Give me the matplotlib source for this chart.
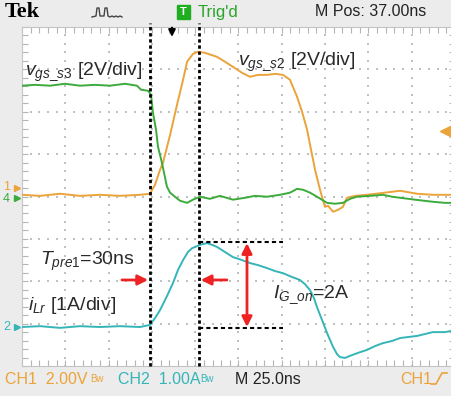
import numpy as np
import matplotlib.pyplot as plt
from matplotlib.ticker import MultipleLocator, NullFormatter
from matplotlib.patches import Rectangle

plt.rcParams['font.family'] = ['Liberation Sans', 'DejaVu Sans']
plt.rcParams['mathtext.fontset'] = 'custom'
plt.rcParams['mathtext.rm'] = 'Liberation Sans'
plt.rcParams['mathtext.it'] = 'Liberation Sans:italic'

# time base 25 ns/div, 10 divisions across the screen
# CH1 (vgs_s2) 2 V/div
t_ch1 = [0, 10.4, 21.9, 33.5, 45.0, 56.6, 68.1, 73.9, 76.8, 79.7, 81.4, 85.5, 89.5, 93.0,
         95.3, 98.7, 101.6, 105.7, 112.6, 117.2, 121.8, 127.0, 131.6, 136.3, 141.5, 146.1,
         150.7, 154.7, 158.8, 161.7, 164.6, 166.9, 169.2, 171.5, 173.2, 174.9, 176.7, 179.6,
         182.5, 185.3, 187.6, 192.3, 199.2, 208.4, 218.3, 228.1, 237.3, 248.3]
v_ch1 = [0.0, -0.05, 0.05, -0.05, 0.0, -0.05, 0.0, 0.05, 0.47, 1.18, 1.51, 2.83, 4.25, 5.43,
         6.28, 6.65, 6.75, 6.70, 6.51, 6.28, 6.04, 5.76, 5.57, 5.66, 5.66, 5.71,
         5.66, 5.43, 4.63, 3.92, 3.07, 2.12, 1.18, 0.42, -0.09, -0.57, -0.52, -0.80,
         -0.71, -0.57, -0.14, -0.05, 0.0, 0.09, 0.19, 0.05, 0.0, 0.0]

# CH4 (vgs_s3) 2 V/div
t_ch4 = [0, 7.5, 16.2, 24.8, 33.5, 42.2, 50.8, 59.5, 66.4, 68.7, 72.8, 74.5, 75.6, 77.4,
         78.5, 80.8, 83.7, 85.5, 88.3, 91.2, 95.3, 98.7, 102.8, 108.5, 114.3, 121.8, 128.8,
         134.5, 141.5, 149.0, 154.7, 158.8, 162.2, 166.3, 170.3, 176.1, 180.7, 185.3, 189.4,
         193.4, 200.9, 208.4, 213.6, 218.3, 226.9, 237.3, 244.2, 248.3]
v_ch4 = [5.29, 5.33, 5.29, 5.38, 5.29, 5.33, 5.29, 5.38, 5.29, 5.10, 5.05, 4.86, 4.01, 3.21,
         2.41, 1.65, 0.52, 0.24, 0.05, -0.14, -0.24, -0.09, 0.05, -0.05, 0.09, -0.09, 0.0,
         0.09, 0.05, 0.14, 0.24, 0.42, 0.38, 0.24, 0.05, -0.24, -0.28, -0.24, -0.05,
         0.05, 0.09, 0.14, 0.05, 0.0, -0.09, -0.19, -0.24, -0.24]

# CH2 (iLr) 1 A/div
t_ch2 = [0, 10.4, 21.9, 33.5, 45.0, 56.6, 68.1, 73.9, 76.8, 79.7, 83.7, 87.2, 90.1, 93.0,
         95.8, 98.2, 102.8, 106.8, 109.7, 112.6, 117.2, 121.8, 127.0, 131.6, 136.3, 141.5,
         146.1, 150.7, 155.9, 160.5, 163.4, 166.3, 168.6, 170.3, 173.2, 176.1, 179.6, 181.9,
         183.6, 186.5, 189.4, 194.0, 199.2, 203.8, 208.4, 213.6, 218.3, 228.1, 237.3, 244.2,
         248.3]
i_ch2 = [0.0, 0.02, -0.02, 0.02, 0.0, 0.02, 0.0, 0.05, 0.21, 0.40, 0.73, 1.04, 1.35, 1.58,
         1.77, 1.86, 1.94, 1.98, 1.94, 1.89, 1.77, 1.65, 1.58, 1.51, 1.46, 1.39,
         1.32, 1.27, 1.18, 1.11, 1.01, 0.87, 0.68, 0.47, 0.17, -0.14, -0.47, -0.64,
         -0.71, -0.73, -0.68, -0.61, -0.54, -0.45, -0.38, -0.33, -0.26, -0.21, -0.12, -0.12,
         -0.09]

# channel offsets on screen (divisions from bottom) and scales
off1, off4, off2 = 4.04, 3.97, 0.92
sc1, sc4, sc2 = 2.0, 2.0, 1.0

orange = '#eba33a'
green = '#3cab3c'
cyan = '#35b5b8'
red = '#ee2222'
bg = '#ececec'

fig = plt.figure(figsize=(4.52, 3.96), dpi=100, facecolor=bg)
ax = fig.add_axes([22/452, 30/396, 433/452, 339/396])
ax.set_xlim(0, 250)
ax.set_ylim(0, 8)
ax.set_facecolor('white')
for s in ax.spines.values():
    s.set_color('#c4c4c4')
    s.set_linewidth(0.8)
ax.xaxis.set_major_locator(MultipleLocator(25))
ax.xaxis.set_minor_locator(MultipleLocator(5))
ax.yaxis.set_major_locator(MultipleLocator(1))
ax.yaxis.set_minor_locator(MultipleLocator(0.2))
ax.xaxis.set_major_formatter(NullFormatter())
ax.yaxis.set_major_formatter(NullFormatter())
ax.tick_params(which='both', direction='in', length=4, width=0.8, color='#b4b4b4',
               top=True, right=True)

# dotted graticule
gx, gy = [], []
for k in range(1, 10):
    for j in range(41):
        gx.append(25 * k); gy.append(0.2 * j)
for k in range(1, 8):
    for j in range(51):
        gx.append(5 * j); gy.append(k)
ax.scatter(gx, gy, s=1.2, color='#c0c0c0', marker='s', linewidths=0, zorder=1)

ax.plot(t_ch1, off1 + np.array(v_ch1) / sc1, color=orange, lw=1.4, zorder=3)
ax.plot(t_ch4, off4 + np.array(v_ch4) / sc4, color=green, lw=1.4, zorder=4)
ax.plot(t_ch2, off2 + np.array(i_ch2) / sc2, color=cyan, lw=1.4, zorder=3)

# cursors
for tc in [73.9, 102.2]:
    ax.plot([tc, tc], [0, 8.1], color='black', lw=2, ls=(0, (1.2, 1.0)), zorder=5,
            clip_on=False)
ax.plot([102.2, 150.7], [2.93, 2.93], color='black', lw=1.5, ls=(0, (2, 1.5)), zorder=5)
ax.plot([102.2, 150.7], [0.90, 0.90], color='black', lw=1.5, ls=(0, (2, 1.5)), zorder=5)

# trigger position arrow
ax.annotate('', xy=(86.6, 7.7), xytext=(86.6, 8.05),
            arrowprops=dict(arrowstyle='-|>', color='black', lw=1.5, mutation_scale=10),
            annotation_clip=False)

# red arrows
arr = dict(color=red, lw=2, mutation_scale=15, shrinkA=0, shrinkB=0)
ax.annotate('', xy=(129.9, 2.90), xytext=(129.9, 0.92),
            arrowprops=dict(arrowstyle='<|-|>', **arr))
ax.annotate('', xy=(72.8, 2.03), xytext=(57.7, 2.03),
            arrowprops=dict(arrowstyle='-|>', **arr))
ax.annotate('', xy=(103.2, 2.03), xytext=(118.3, 2.03),
            arrowprops=dict(arrowstyle='-|>', **arr))

# trace labels
tc_ = '#2a2a2a'
ax.text(1.7, 6.87, r'$v_{gs\_s3}$ [2V/div]', fontsize=14, color=tc_)
ax.text(124.7, 7.10, r'$v_{gs\_s2}$ [2V/div]', fontsize=14, color=tc_)
ax.text(10.4, 2.38, r'$T_{pre1}$=30ns', fontsize=14, color=tc_)
ax.text(3.5, 1.32, r'$i_{Lr}$ [1A/div]', fontsize=14, color=tc_)
ax.text(144.9, 1.60, r'$I_{G\_on}$=2A', fontsize=14, color=tc_)

# channel markers
ax.plot([-3], [off1 + 0.17], marker='>', ms=5, color=orange, clip_on=False)
ax.plot([-3], [off4], marker='>', ms=5, color=green, clip_on=False)
ax.plot([-3], [off2], marker='>', ms=5, color=cyan, clip_on=False)
fig.text(3/452, 1 - 187/396, '1', color=orange, fontsize=9, va='center')
fig.text(3/452, 1 - 199/396, '4', color=green, fontsize=9, va='center')
fig.text(3/452, 1 - 327/396, '2', color=cyan, fontsize=9, va='center')
ax.plot([244.2], [5.55], marker='<', ms=7, color=orange, clip_on=False)
ax.plot([244.2, 249], [5.55, 5.55], color=orange, lw=1.5)

# top status bar
fig.text(5/452, 1 - 12/396, 'Tek', fontsize=16, fontweight='bold',
         family='Liberation Serif', va='center')
px = np.array([92, 96, 97, 99, 100, 104, 105, 107, 108, 110, 112, 114, 116, 118, 120, 122])
py = np.array([17, 16, 8, 8, 16, 16, 8, 8, 16, 17, 16, 17, 16, 17, 16, 17])
fig.add_artist(plt.Line2D(px / 452, 1 - py / 396, color='#444444', lw=1))
fig.add_artist(Rectangle((177/452, 1 - 19/396), 13/452, 14/396, color='#1fae1f',
                         transform=fig.transFigure))
fig.text(183.5/452, 1 - 12/396, 'T', color='white', fontsize=8, fontweight='bold',
         ha='center', va='center')
fig.text(198/452, 1 - 12/396, "Trig'd", color='#2aa52a', fontsize=12, va='center')
fig.text(315/452, 1 - 12/396, 'M Pos: 37.00ns', color='#222222', fontsize=11.5, va='center')

# bottom status bar
yb = 1 - 379/396
fig.text(5/452, yb, 'CH1  2.00V', color=orange, fontsize=11.5, va='center')
fig.text(90/452, yb, 'Bw', color=orange, fontsize=7, va='center')
fig.text(118/452, yb, 'CH2  1.00A', color=cyan, fontsize=11.5, va='center')
fig.text(200/452, yb, 'Bw', color=cyan, fontsize=7, va='center')
fig.text(235/452, yb, 'M 25.0ns', color='#222222', fontsize=11.5, va='center')
fig.text(400/452, yb, 'CH1', color=orange, fontsize=11.5, va='center')
sx = np.array([431, 436, 442, 447])
sy = np.array([384, 384, 373, 373])
fig.add_artist(plt.Line2D(sx / 452, 1 - sy / 396, color=orange, lw=1.2))

fig.savefig('out.png', dpi=100, facecolor=bg)
